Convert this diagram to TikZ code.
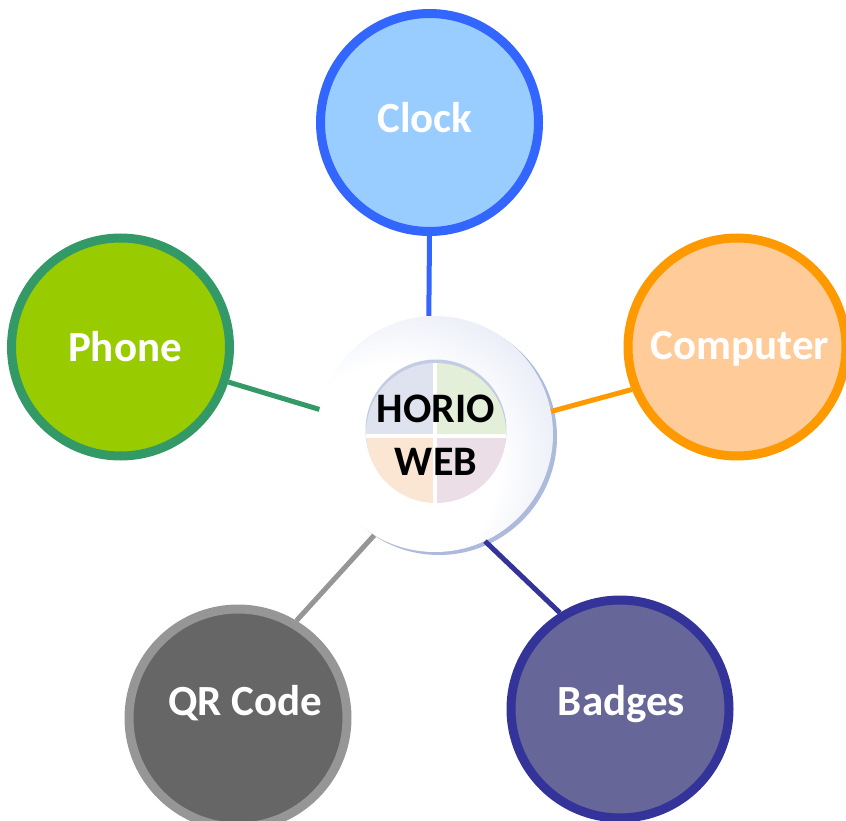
\documentclass[tikz,border=0pt]{standalone}
\usepackage{fontspec}
\setmainfont{Carlito}
\definecolor{clockfill}{HTML}{99CCFF}
\definecolor{clockline}{HTML}{3366FF}
\definecolor{phonefill}{HTML}{99CC00}
\definecolor{phoneline}{HTML}{339966}
\definecolor{compfill}{HTML}{FFCC99}
\definecolor{compline}{HTML}{FF9900}
\definecolor{qrfill}{HTML}{666666}
\definecolor{qrline}{HTML}{969696}
\definecolor{badgefill}{HTML}{666699}
\definecolor{badgeline}{HTML}{333399}
\definecolor{hubedge}{HTML}{CDD5EC}
\definecolor{hubshadow}{HTML}{AEBADB}
\definecolor{rim}{HTML}{C3CCE3}
\definecolor{qa}{HTML}{DEE3EF}
\definecolor{qb}{HTML}{E3EFD9}
\definecolor{qc}{HTML}{FBE5D3}
\definecolor{qd}{HTML}{ECDEE7}
\pgfdeclareradialshading{hubshade}{\pgfpoint{-12bp}{-10bp}}{color(0bp)=(white); color(22bp)=(white); color(52bp)=(hubedge); color(80bp)=(hubedge)}
\tikzset{
  sat/.style={circle, line width=9pt, minimum size=218pt, inner sep=0pt,
    text=white, font=\bfseries\fontsize{43}{43}\selectfont,
    text height=28pt, text depth=0pt},
  raise/.style={text depth=#1},
  link/.style={line width=5pt},
  hubtext/.style={font=\bfseries\fontsize{42}{42}\selectfont, text=black, inner sep=0pt, anchor=base}
}
\begin{document}
\begin{tikzpicture}[x=1pt,y=-1pt]
\useasboundingbox (0,0) rectangle (846,821);
% hub
\fill[hubshadow] (439,437) circle (118);
\node[circle, minimum size=236pt, inner sep=0pt, shading=hubshade] (hub) at (435,434) {};
\fill[rim] (436,430) circle (70.5);
\begin{scope}
  \clip (436,433) circle (70);
  \fill[qa] (360,360) rectangle (435,436);
  \fill[qb] (435,360) rectangle (510,436);
  \fill[qc] (360,436) rectangle (435,510);
  \fill[qd] (435,436) rectangle (510,510);
  \draw[white, line width=4.5pt] (435,355) -- (435,510);
  \draw[white, line width=4.5pt] (360,436) -- (510,436);
\end{scope}
\node[hubtext] (horio) at (436,422) {HORIO};
\node[hubtext] (web) at (436,475) {WEB};
% satellites
\node[sat, raise=8pt, fill=clockfill, draw=clockline] (clock) at (429.5,122.5) {Clock\hspace*{9pt}};
\node[sat, fill=phonefill, draw=phoneline] (phone) at (120.5,347) {\hspace*{9pt}Phone};
\node[sat, raise=4pt, fill=compfill, draw=compline] (comp) at (737,347) {\hspace*{6pt}Computer};
\node[sat, raise=34pt, fill=qrfill, draw=qrline] (qr) at (238,718) {\hspace*{15pt}QR Code};
\node[sat, raise=16pt, fill=badgefill, draw=badgeline] (badge) at (620,709) {\hspace*{3pt}Badges};
% connectors
\draw[link, clockline] (clock.south) -- (hub.93);
\draw[link, phoneline] (phone.342) -- (hub.168);
\draw[link, compline] (comp.202.5) -- (hub.11);
\draw[link, qrline] (qr.59.4) -- (hub.239);
\draw[link, badgeline] (badge.122.9) -- (hub.295);
\end{tikzpicture}
\end{document}
